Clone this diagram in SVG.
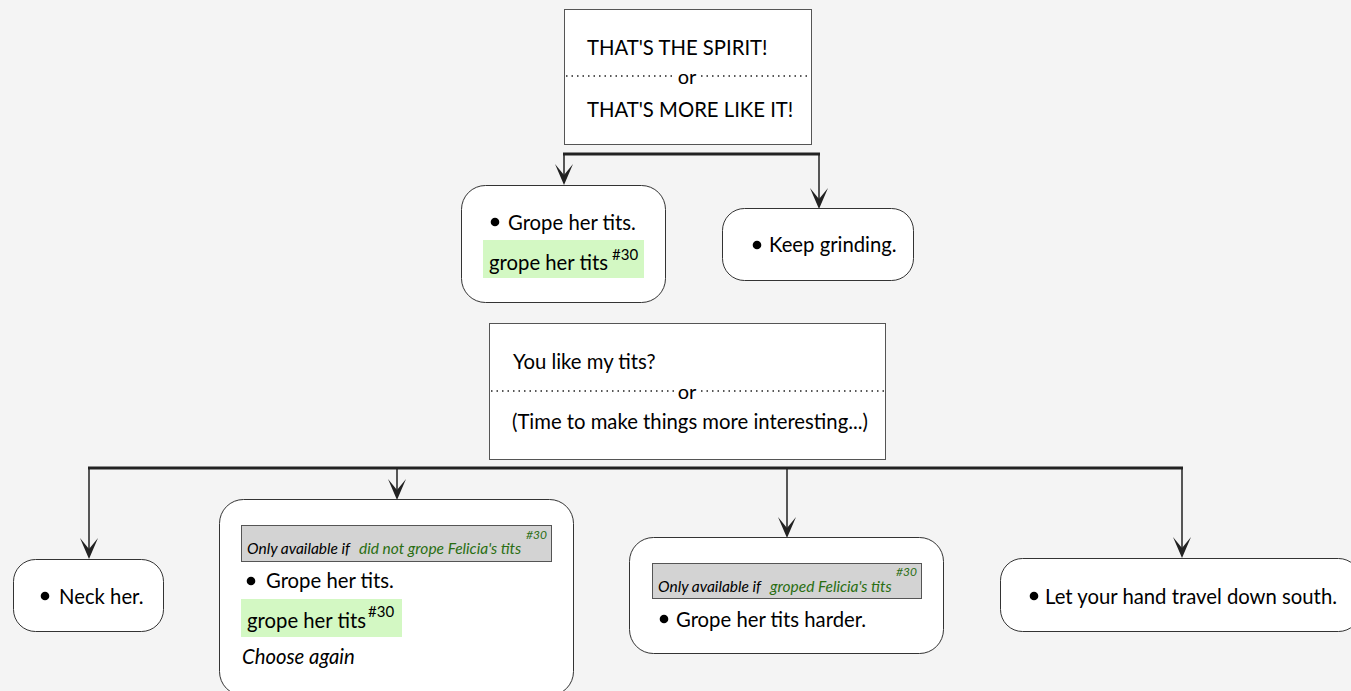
<svg xmlns="http://www.w3.org/2000/svg" width="1351" height="691" viewBox="0 0 1351 691">
<defs>
<style>
text{font-family:Lato,"Open Sans","Liberation Sans",sans-serif;fill:#000;}
.t{font-size:20.3px;}
.c{font-size:20px;text-anchor:middle;}
.note{font-size:15.5px;font-style:italic;}
.g{fill:#2a6e12;}
.sup{font-size:12px;font-style:italic;fill:#2a6e12;}
.sup2{font-size:15px;}
.box{fill:#fff;stroke:#555;stroke-width:1;}
.node{fill:#fff;stroke:#333;stroke-width:1;}
.cond{fill:#d3d3d3;stroke:#555;stroke-width:1;}
.hl{fill:#d3f8c3;}
.dot{stroke:#222;stroke-width:1.3;stroke-dasharray:1.5 4;}
.bar{stroke:#222;stroke-width:3;fill:none;}
.ln{stroke:#222;stroke-width:1.5;fill:none;}
.ah{fill:#222;}
</style>
</defs>
<rect width="1351" height="691" fill="#f4f4f4"/>

<g id="connectors">
<path class="bar" d="M563 154 H820"/>
<path class="ln" d="M564 154 V180 M819 154 V203"/>
<polygon class="ah" points="555,164 564,185 573,164 564,175"/>
<polygon class="ah" points="810,188 819,209 828,188 819,199"/>
<path class="bar" d="M88 468 H1183"/>
<path class="ln" d="M89 468 V554 M397 468 V495 M787 468 V532 M1182 468 V552"/>
<polygon class="ah" points="80,538 89,559 98,538 89,549"/>
<polygon class="ah" points="388,479 397,500 406,479 397,490"/>
<polygon class="ah" points="778,517 787,538 796,517 787,528"/>
<polygon class="ah" points="1173,537 1182,558 1191,537 1182,548"/>
</g>

<g id="choice1">
<rect class="box" x="564.5" y="9.5" width="247" height="135"/>
<line class="dot" x1="566" y1="76" x2="675" y2="76"/>
<line class="dot" x1="701" y1="76" x2="810" y2="76"/>
<text class="t" x="587" y="55">THAT'S THE SPIRIT!</text>
<text class="c" x="687" y="84">or</text>
<text class="t" x="587" y="117">THAT'S MORE LIKE IT!</text>
</g>

<g id="opt-grope1">
<rect class="node" x="461.5" y="185.5" width="204" height="117" rx="24"/>
<circle cx="495" cy="222" r="4.3"/>
<text class="t" x="508" y="230">Grope her tits.</text>
<rect class="hl" x="483" y="240" width="161" height="38"/>
<text class="t" x="489" y="270">grope her tits</text>
<text class="sup2" x="612" y="260">#30</text>
</g>

<g id="opt-keep">
<rect class="node" x="722.5" y="208.5" width="191" height="72" rx="22"/>
<circle cx="757" cy="245" r="4.3"/>
<text class="t" x="769" y="252">Keep grinding.</text>
</g>

<g id="choice2">
<rect class="box" x="489.5" y="323.5" width="396" height="136"/>
<line class="dot" x1="491" y1="391" x2="675" y2="391"/>
<line class="dot" x1="701" y1="391" x2="885" y2="391"/>
<text class="t" x="513" y="369">You like my tits?</text>
<text class="c" x="687" y="399">or</text>
<text class="t" x="512" y="429">(Time to make things more interesting...)</text>
</g>

<g id="opt-neck">
<rect class="node" x="13.5" y="559.5" width="150" height="72" rx="22"/>
<circle cx="45" cy="596" r="4.3"/>
<text class="t" x="59" y="604">Neck her.</text>
</g>

<g id="opt-grope2">
<rect class="node" x="219.5" y="499.5" width="354" height="196" rx="24"/>
<rect class="cond" x="241.5" y="525.5" width="310" height="36"/>
<text class="note" x="247" y="554">Only available if</text>
<text class="note g" x="359" y="554">did not grope Felicia's tits</text>
<text class="sup" x="526" y="539">#30</text>
<circle cx="251" cy="581" r="4.3"/>
<text class="t" x="266" y="588">Grope her tits.</text>
<rect class="hl" x="241" y="599" width="161" height="38"/>
<text class="t" x="247" y="628">grope her tits</text>
<text class="sup2" x="368" y="617">#30</text>
<text class="t" x="242" y="664" font-style="italic">Choose again</text>
</g>

<g id="opt-harder">
<rect class="node" x="629.5" y="537.5" width="314" height="116" rx="24"/>
<rect class="cond" x="652.5" y="563.5" width="269" height="35"/>
<text class="note" x="658" y="592">Only available if</text>
<text class="note g" x="770" y="592">groped Felicia's tits</text>
<text class="sup" x="896" y="576">#30</text>
<circle cx="664" cy="619" r="4.3"/>
<text class="t" x="676" y="627">Grope her tits harder.</text>
</g>

<g id="opt-south">
<rect class="node" x="1000.5" y="558.5" width="360" height="73" rx="22"/>
<circle cx="1034" cy="596" r="4.3"/>
<text class="t" x="1045" y="604">Let your hand travel down south.</text>
</g>
</svg>
